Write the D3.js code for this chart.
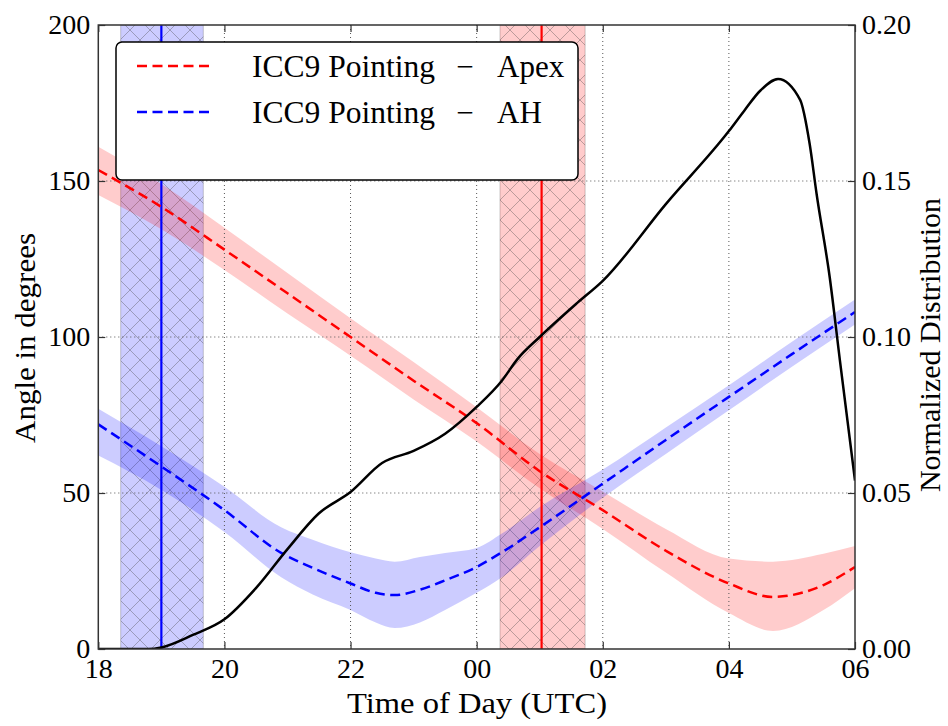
<!DOCTYPE html>
<html>
<head>
<meta charset="utf-8">
<script src="https://cdn.jsdelivr.net/npm/d3@7"></script>
<style>
  body { margin: 0; background: #fff; }
  text { font-family: "Liberation Serif", "DejaVu Serif", serif; fill: #000; }
</style>
</head>
<body>
<svg id="chart" width="948" height="726"></svg>
<script>
// Data (hours after 18:00 UTC)
const xTicks = [0, 2, 4, 6, 8, 10, 12];
const xTickLabels = ["18", "20", "22", "00", "02", "04", "06"];
const yTicks = [0, 50, 100, 150, 200];
const y2Ticks = [0, 0.05, 0.10, 0.15, 0.20];

// ICC9 pointing - Apex (red)
const apexT    = [0, 1, 2, 3, 4, 5, 6, 7, 8, 9, 10, 10.7, 11.5, 12];
const apexMid  = [153.5, 141.7, 128, 114, 100, 86, 72.4, 57, 44.5, 31.5, 21, 16.7, 20.5, 26.3];
const apexLow  = [145.5, 134.5, 121.5, 107.5, 94, 80, 66.5, 51.5, 38.5, 24.5, 11.5, 5.8, 12.5, 19.5];
const apexHigh = [161, 149, 135, 120.5, 106, 92, 77.5, 62.5, 50.5, 38.5, 29, 28, 30.5, 33];

// ICC9 pointing - AH (blue)
const ahT    = [0, 1, 2, 2.9, 3.4, 4, 4.4, 4.7, 5.1, 5.5, 6, 6.4, 7, 8, 9, 10, 11, 12];
const ahMid  = [72, 58.5, 44.5, 30.8, 26, 21, 18, 17.3, 19, 22, 26.3, 31, 39, 53, 67, 80.8, 94.5, 108];
const ahLow  = [62, 51, 37.5, 23, 17.5, 12.5, 8.5, 6.7, 8.5, 12.5, 18, 23, 33, 48.5, 62.5, 76.5, 90.5, 104];
const ahHigh = [77, 65, 52, 39, 35, 31, 29, 28, 29.5, 30.8, 32.4, 37, 45.5, 57.5, 71, 84.5, 98.5, 112];

// Normalized distribution (black, right axis)
const distT   = [0, 0.4, 0.8, 1, 1.5, 2, 2.5, 3, 3.5, 4, 4.5, 5, 5.5, 6, 6.4, 6.65, 7, 7.6, 8, 9, 10, 10.25, 10.5, 10.78, 11.13, 11.28, 11.39, 11.6, 11.76, 12];
const distVal = [0, 0, 0, 0.0005, 0.0045, 0.0095, 0.0195, 0.032, 0.0435, 0.0503, 0.0596, 0.0635, 0.069, 0.0776, 0.086, 0.093, 0.1, 0.111, 0.118, 0.1426, 0.166, 0.1727, 0.179, 0.1827, 0.176, 0.162, 0.146, 0.119, 0.0926, 0.054];

// Observation windows
const ahSpan = [0.355, 1.665], ahLine = 1.0;
const apexSpan = [6.37, 7.72], apexLine = 7.03;

const legendItems = [
    { label: "ICC9 Pointing", tail: "Apex", color: "#ff0000" },
    { label: "ICC9 Pointing", tail: "AH", color: "#0000ff" }
];

const FONT = "Liberation Serif";
const svg = d3.select("#chart");
const pL = 98.3, pR = 855, pT = 25, pB = 649;

const x = d3.scaleLinear().domain([0, 12]).range([pL, pR]);
const y = d3.scaleLinear().domain([0, 200]).range([pB, pT]);
const y2 = d3.scaleLinear().domain([0, 0.2]).range([pB, pT]);

svg.append("rect").attr("width", 948).attr("height", 726).attr("fill", "#fff");

// hatch pattern (cross)
const defs = svg.append("defs");
const hs = 20;
const pat = defs.append("pattern")
    .attr("id", "hatch")
    .attr("patternUnits", "userSpaceOnUse")
    .attr("width", hs).attr("height", hs);
pat.append("path")
    .attr("d", `M0,0 L${hs},${hs} M${hs},0 L0,${hs}`)
    .attr("stroke", "rgba(60,60,60,0.35)")
    .attr("stroke-width", 1);
defs.append("clipPath").attr("id", "plotclip")
    .append("rect").attr("x", pL).attr("y", pT).attr("width", pR - pL).attr("height", pB - pT);

const plot = svg.append("g").attr("clip-path", "url(#plotclip)");

// vertical spans
[[ahSpan, "rgba(0,0,255,0.2)"], [apexSpan, "rgba(255,0,0,0.2)"]].forEach(([s, c]) => {
    plot.append("rect")
        .attr("x", x(s[0])).attr("y", pT)
        .attr("width", x(s[1]) - x(s[0])).attr("height", pB - pT)
        .attr("fill", c)
        .attr("stroke", "rgba(0,0,0,0.2)").attr("stroke-width", 1);
    plot.append("rect")
        .attr("x", x(s[0])).attr("y", pT)
        .attr("width", x(s[1]) - x(s[0])).attr("height", pB - pT)
        .attr("fill", "url(#hatch)");
});

// bands
const band = d3.area().curve(d3.curveMonotoneX);
function drawBand(T, lo, hi, color) {
    const pts = T.map((t, i) => [t, lo[i], hi[i]]);
    plot.append("path")
        .attr("d", band.x(d => x(d[0])).y0(d => y(d[1])).y1(d => y(d[2]))(pts))
        .attr("fill", color);
}
drawBand(apexT, apexLow, apexHigh, "rgba(255,0,0,0.2)");
drawBand(ahT, ahLow, ahHigh, "rgba(0,0,255,0.2)");

// grid
const grid = svg.append("g");
xTicks.slice(1, -1).forEach(t => {
    grid.append("line").attr("x1", x(t)).attr("x2", x(t)).attr("y1", pT).attr("y2", pB);
});
yTicks.slice(1, -1).forEach(t => {
    grid.append("line").attr("x1", pL).attr("x2", pR).attr("y1", y(t)).attr("y2", y(t));
});
grid.selectAll("line")
    .attr("stroke", "#555").attr("stroke-width", 1).attr("stroke-dasharray", "1,3");

// lines
const line = d3.line().curve(d3.curveMonotoneX);
function drawLine(T, V, scale, color, dash) {
    svg.append("path")
        .attr("clip-path", "url(#plotclip)")
        .attr("d", line.x((d, i) => x(T[i])).y(d => scale(d))(V))
        .attr("fill", "none")
        .attr("stroke", color)
        .attr("stroke-width", 2.5)
        .attr("stroke-dasharray", dash);
}
svg.append("line").attr("x1", x(ahLine)).attr("x2", x(ahLine)).attr("y1", pT).attr("y2", pB)
    .attr("stroke", "#0000ff").attr("stroke-width", 2.2);
svg.append("line").attr("x1", x(apexLine)).attr("x2", x(apexLine)).attr("y1", pT).attr("y2", pB)
    .attr("stroke", "#ff0000").attr("stroke-width", 2.2);
drawLine(apexT, apexMid, y, "#ff0000", "10,5.5");
drawLine(ahT, ahMid, y, "#0000ff", "10,5.5");
drawLine(distT, distVal, y2, "#000", null);

// axes
const tickLen = 7;
const fmtX = d => xTickLabels[xTicks.indexOf(d)];
svg.append("g").attr("class", "ax").attr("transform", `translate(0,${pB})`)
    .call(d3.axisBottom(x).tickValues(xTicks).tickFormat(fmtX).tickSize(-tickLen).tickSizeOuter(0).tickPadding(9));
svg.append("g").attr("class", "ax").attr("transform", `translate(0,${pT})`)
    .call(d3.axisTop(x).tickValues(xTicks).tickFormat("").tickSize(-tickLen).tickSizeOuter(0));
svg.append("g").attr("class", "ax").attr("transform", `translate(${pL},0)`)
    .call(d3.axisLeft(y).tickValues(yTicks).tickFormat(d3.format("d")).tickSize(-tickLen).tickSizeOuter(0).tickPadding(8));
svg.append("g").attr("class", "ax").attr("transform", `translate(${pR},0)`)
    .call(d3.axisRight(y2).tickValues(y2Ticks).tickFormat(d3.format(".2f")).tickSize(-tickLen).tickSizeOuter(0).tickPadding(7));
svg.selectAll(".ax .domain").remove();
svg.selectAll(".ax line").attr("stroke", "#333").attr("stroke-width", 1.2);
svg.selectAll(".ax text").attr("font-size", 28).attr("font-family", FONT).attr("fill", "#000");

// frame
svg.append("rect").attr("x", pL).attr("y", pT).attr("width", pR - pL).attr("height", pB - pT)
    .attr("fill", "none").attr("stroke", "#333").attr("stroke-width", 1.5);

// axis labels
svg.append("text").attr("x", 477).attr("y", 713).attr("text-anchor", "middle")
    .attr("font-family", FONT).attr("font-size", 30)
    .attr("textLength", 260).attr("lengthAdjust", "spacingAndGlyphs")
    .text("Time of Day (UTC)");
svg.append("text").attr("transform", "translate(35,338) rotate(-90)").attr("text-anchor", "middle")
    .attr("font-family", FONT).attr("font-size", 30)
    .attr("textLength", 210).attr("lengthAdjust", "spacingAndGlyphs")
    .text("Angle in degrees");
svg.append("text").attr("transform", "translate(940,345) rotate(-90)").attr("text-anchor", "middle")
    .attr("font-family", FONT).attr("font-size", 30)
    .text("Normalized Distribution");

// legend
const lg = svg.append("g");
lg.append("rect").attr("x", 116).attr("y", 42).attr("width", 462).attr("height", 138)
    .attr("rx", 6).attr("fill", "#fff").attr("stroke", "#000").attr("stroke-width", 1.5);
legendItems.forEach((d, i) => {
    const yy = 66 + i * 46;
    lg.append("line").attr("x1", 137).attr("x2", 212).attr("y1", yy).attr("y2", yy)
        .attr("stroke", d.color).attr("stroke-width", 2.5).attr("stroke-dasharray", "10,5.5");
    lg.append("text").attr("x", 252).attr("y", yy + 11)
        .attr("font-family", FONT).attr("font-size", 31)
        .attr("textLength", 183).attr("lengthAdjust", "spacingAndGlyphs").text(d.label);
    lg.append("text").attr("x", 465).attr("y", yy + 11)
        .attr("font-family", FONT).attr("font-size", 31)
        .attr("text-anchor", "middle").text("\u2212");
    lg.append("text").attr("x", 497).attr("y", yy + 11)
        .attr("font-family", FONT).attr("font-size", 31).text(d.tail);
});
</script>
</body>
</html>
